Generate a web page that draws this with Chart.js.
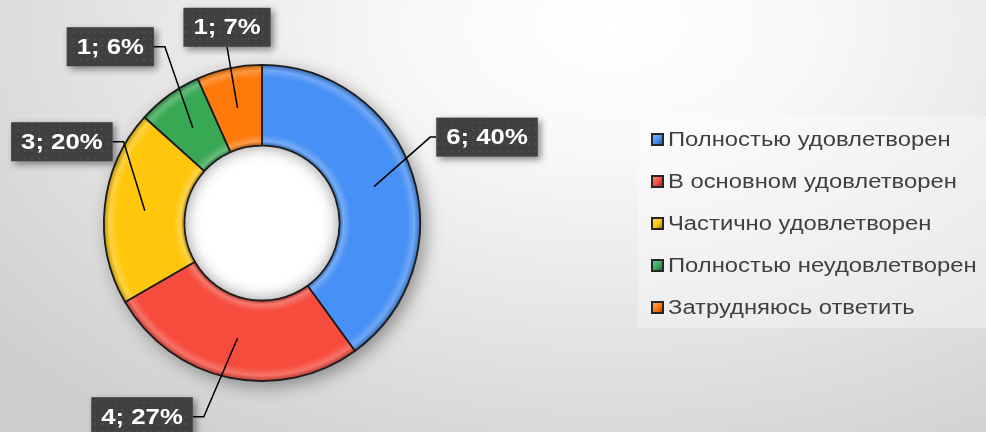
<!DOCTYPE html>
<html lang="ru">
<head>
    <meta charset="UTF-8">
    <title>Удовлетворённость</title>
    <script src="https://cdn.jsdelivr.net/npm/chart.js"></script>
    <style>
        html, body { margin: 0; padding: 0; }
        body {
            width: 986px;
            height: 432px;
            overflow: hidden;
            position: relative;
            background: radial-gradient(ellipse 80% 115% at 62% 6%, #ffffff 0%, #f8f8f8 26%, #e2e2e2 66%, #cfcfcf 100%);
            font-family: "Liberation Sans", Arial, sans-serif;
        }
        #chart { position: absolute; left: 0; top: 0; }
        .legend {
            position: absolute;
            left: 638px;
            top: 116px;
            width: 348px;
            height: 212px;
            padding-top: 2px;
            box-sizing: border-box;
            background: rgba(255, 255, 255, 0.32);
        }
        .legend-item {
            height: 42px;
            display: flex;
            align-items: center;
            padding-left: 13px;
            font-size: 20px;
            color: #404040;
            white-space: nowrap;
        }
        .legend-item .box {
            width: 9px;
            height: 9px;
            border: 2px solid #262626;
            margin-right: 4px;
            flex: none;
        }
        .legend-item .name {
            display: inline-block;
            transform: scaleX(1.19);
            transform-origin: left center;
        }
    </style>
</head>
<body>
    <canvas id="chart" width="986" height="432"></canvas>
    <div class="legend" id="legend"></div>

    <script>
        const categories = ['Полностью удовлетворен', 'В основном удовлетворен', 'Частично удовлетворен', 'Полностью неудовлетворен', 'Затрудняюсь ответить'];
        const counts = [6, 4, 3, 1, 1];
        const percents = [40, 27, 20, 6, 7];
        const colors = ['#4790f5', '#f64c3e', '#ffc60c', '#38a855', '#ff7a0a'];

        // where each label box sits relative to its slice centre, and which side the leader enters
        const labelPlacement = [
            { dx: 113, dy: -49.5, side: 'left' },
            { dx: -95.5, dy: 78.5, side: 'right' },
            { dx: -83, dy: -69, side: 'right' },
            { dx: -82.5, dy: -81, side: 'right' },
            { dx: -10.5, dy: -80.5, side: 'bottom' }
        ];

        function mix(hex, amount) {
            const n = parseInt(hex.slice(1), 16);
            let rgb = [(n >> 16) & 255, (n >> 8) & 255, n & 255];
            rgb = rgb.map(c => amount >= 0 ? Math.round(c + (255 - c) * amount) : Math.round(c * (1 + amount)));
            return `rgb(${rgb[0]}, ${rgb[1]}, ${rgb[2]})`;
        }

        // radial bevel per slice
        function bevel(context) {
            const base = colors[context.dataIndex];
            const chart = context.chart;
            const area = chart.chartArea;
            const ctrl = chart.getDatasetMeta(0).controller;
            if (!area || !ctrl || !ctrl.outerRadius) return base;
            const cx = (area.left + area.right) / 2;
            const cy = (area.top + area.bottom) / 2;
            const g = chart.ctx.createRadialGradient(cx, cy, ctrl.innerRadius, cx, cy, ctrl.outerRadius);
            g.addColorStop(0, mix(base, -0.35));
            g.addColorStop(0.05, mix(base, 0.25));
            g.addColorStop(0.14, base);
            g.addColorStop(0.84, base);
            g.addColorStop(0.93, mix(base, 0.22));
            g.addColorStop(1, mix(base, -0.25));
            return g;
        }

        const ringShadow = {
            id: 'ringShadow',
            beforeDatasetsDraw(chart) {
                const arc = chart.getDatasetMeta(0).data[0];
                if (!arc) return;
                const ctx = chart.ctx;
                ctx.save();
                ctx.shadowColor = 'rgba(0, 0, 0, 0.4)';
                ctx.shadowBlur = 18;
                ctx.shadowOffsetX = 5;
                ctx.shadowOffsetY = 5;
                ctx.fillStyle = '#ffffff';
                ctx.beginPath();
                ctx.arc(arc.x, arc.y, arc.outerRadius, 0, Math.PI * 2);
                ctx.fill();
                ctx.restore();
            },
            afterDatasetsDraw(chart) {
                const arc = chart.getDatasetMeta(0).data[0];
                if (!arc) return;
                const ctx = chart.ctx;
                // soft shading inside the hole
                ctx.save();
                ctx.beginPath();
                ctx.arc(arc.x, arc.y, arc.innerRadius - 1, 0, Math.PI * 2);
                ctx.clip();
                ctx.beginPath();
                ctx.arc(arc.x, arc.y, arc.innerRadius + 40, 0, Math.PI * 2);
                ctx.arc(arc.x, arc.y, arc.innerRadius, 0, Math.PI * 2, true);
                ctx.shadowColor = 'rgba(0, 0, 0, 0.45)';
                ctx.shadowBlur = 16;
                ctx.fillStyle = '#000';
                ctx.fill();
                ctx.restore();
            }
        };

        function boxPattern(ctx) {
            const c = document.createElement('canvas');
            c.width = 7; c.height = 7;
            const p = c.getContext('2d');
            p.fillStyle = '#404040';
            p.fillRect(0, 0, 7, 7);
            p.fillStyle = '#4b4b4b';
            p.fillRect(3, 3, 2, 2);
            return ctx.createPattern(c, 'repeat');
        }

        const stretch = 1.17;

        const dataLabels = {
            id: 'dataLabels',
            afterDraw(chart) {
                const ctx = chart.ctx;
                const arcs = chart.getDatasetMeta(0).data;
                ctx.save();
                ctx.font = 'bold 22px "Liberation Sans", Arial, sans-serif';
                const fill = boxPattern(ctx);

                arcs.forEach((arc, i) => {
                    const text = `${counts[i]}; ${percents[i]}%`;
                    const pos = arc.tooltipPosition();
                    const place = labelPlacement[i];
                    const w = ctx.measureText(text).width * stretch + 20;
                    const h = 39;
                    const cx = pos.x + place.dx;
                    const cy = pos.y + place.dy;
                    const left = cx - w / 2, right = cx + w / 2, top = cy - h / 2, bottom = cy + h / 2;

                    // leader line
                    ctx.strokeStyle = '#000';
                    ctx.lineWidth = 1.5;
                    ctx.beginPath();
                    ctx.moveTo(pos.x, pos.y);
                    if (place.side === 'left') {
                        ctx.lineTo(left - 6, cy);
                        ctx.lineTo(left, cy);
                    } else if (place.side === 'right') {
                        ctx.lineTo(right + 11, cy);
                        ctx.lineTo(right, cy);
                    } else {
                        ctx.lineTo(cx, bottom);
                    }
                    ctx.stroke();

                    // box
                    ctx.save();
                    ctx.shadowColor = 'rgba(0, 0, 0, 0.45)';
                    ctx.shadowBlur = 7;
                    ctx.shadowOffsetX = 3;
                    ctx.shadowOffsetY = 3;
                    ctx.fillStyle = fill;
                    ctx.fillRect(left, top, w, h);
                    ctx.restore();

                    ctx.save();
                    ctx.translate(cx, cy + 1);
                    ctx.scale(stretch, 1);
                    ctx.fillStyle = '#ffffff';
                    ctx.textAlign = 'center';
                    ctx.textBaseline = 'middle';
                    ctx.fillText(text, 0, 0);
                    ctx.restore();
                });
                ctx.restore();
            }
        };

        new Chart(document.getElementById('chart'), {
            type: 'doughnut',
            data: {
                labels: categories,
                datasets: [{
                    data: counts,
                    backgroundColor: bevel,
                    borderColor: '#1c1c1c',
                    borderWidth: 1.8,
                    hoverOffset: 0
                }]
            },
            options: {
                responsive: false,
                animation: false,
                cutout: '49%',
                layout: { padding: { left: 0, right: 462, top: 64, bottom: 50 } },
                plugins: {
                    legend: { display: false },
                    tooltip: { enabled: false }
                }
            },
            plugins: [ringShadow, dataLabels]
        });

        // legend on the right
        const legend = document.getElementById('legend');
        categories.forEach((name, i) => {
            const item = document.createElement('div');
            item.className = 'legend-item';
            item.innerHTML = `<span class="box" style="background: linear-gradient(135deg, ${mix(colors[i], 0.3)}, ${colors[i]} 55%, ${mix(colors[i], -0.35)});"></span><span class="name">${name}</span>`;
            legend.appendChild(item);
        });
    </script>
</body>
</html>
